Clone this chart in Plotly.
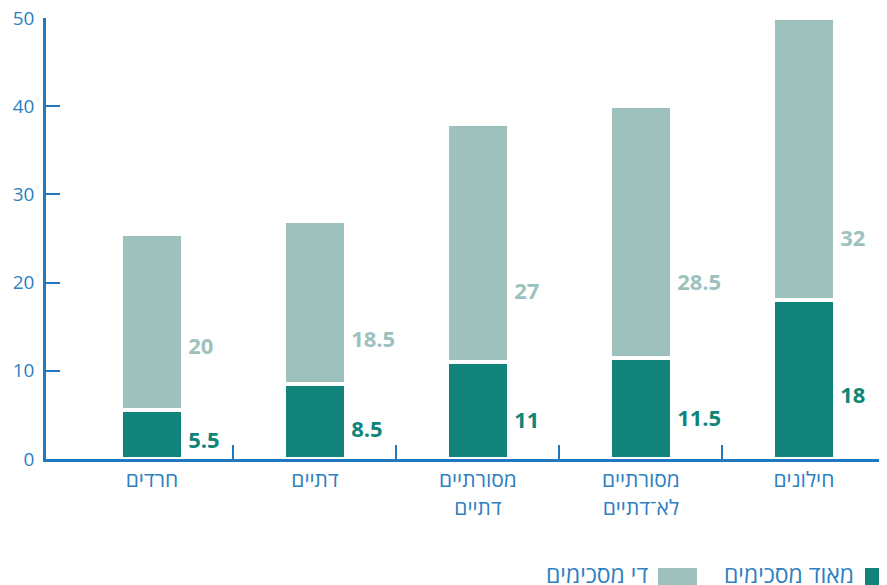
import plotly.graph_objects as go

categories = ["חרדים", "דתיים", "מסורתיים<br>דתיים", "מסורתיים<br>לא־דתיים", "חילונים"]
very_agree = [5.5, 8.5, 11, 11.5, 18]
somewhat_agree = [20, 18.5, 27, 28.5, 32]
series_names = ["מאוד מסכימים", "די מסכימים"]
y_ticks = [0, 10, 20, 30, 40, 50]

DARK = "#10847a"
LIGHT = "#9dc2be"
BLUE = "#1f78c0"
TXT = "#2d80c2"
FONT = "Open Sans"

# page offset (browser body margin) compensation
OFF = 8
L, T, R, B = 46 - OFF, 18 - OFF, OFF, 585 - 459 + OFF
PW, PH = 887 - 46, 459 - 18

xs = list(range(len(categories)))
bw = 0.385

fig = go.Figure()
fig.add_trace(go.Bar(x=xs, y=very_agree, name=series_names[0], width=bw,
                     marker=dict(color=DARK, line=dict(color="white", width=4)),
                     hoverinfo="skip"))
fig.add_trace(go.Bar(x=xs, y=somewhat_agree, name=series_names[1], width=bw,
                     marker=dict(color=LIGHT, line=dict(color="white", width=4)),
                     hoverinfo="skip"))

lab_x = [x + bw / 2 + 0.03 for x in xs]
fig.add_trace(go.Scatter(
    x=lab_x, y=[0.41 * d - 0.35 for d in very_agree], mode="text",
    text=[f"{v:g}" for v in very_agree], textposition="middle right",
    textfont=dict(family=FONT, size=22, color=DARK, weight="bold"),
    showlegend=False, hoverinfo="skip", cliponaxis=False))
fig.add_trace(go.Scatter(
    x=lab_x, y=[(d + l) / 2 - 0.2 for d, l in zip(very_agree, somewhat_agree)], mode="text",
    text=[f"{v:g}" for v in somewhat_agree], textposition="middle right",
    textfont=dict(family=FONT, size=22, color=LIGHT, weight="bold"),
    showlegend=False, hoverinfo="skip", cliponaxis=False))

fig.update_layout(
    width=887, height=585,
    margin=dict(l=L, r=R, t=T, b=B, autoexpand=False),
    barmode="stack",
    plot_bgcolor="white", paper_bgcolor="white",
    showlegend=False,
    font=dict(family=FONT, size=18, color=TXT),
    xaxis=dict(
        type="linear", range=[-0.65, 4.51], automargin=False,
        tickmode="array", tickvals=xs, ticktext=categories,
        ticks="", showgrid=False, zeroline=False,
        showline=True, linecolor=BLUE, linewidth=3,
        tickfont=dict(family=FONT, size=21, color=TXT),
        ticklabelstandoff=0, ticklabeloverflow="allow",
        minor=dict(tickmode="array", tickvals=[x + 0.5 for x in xs[:-1]],
                   ticks="inside", ticklen=14, tickwidth=2, tickcolor=BLUE, showgrid=False),
    ),
    yaxis=dict(
        range=[0, 50], tickvals=y_ticks, automargin=False,
        ticks="inside", ticklen=14, tickwidth=2, tickcolor=BLUE,
        showline=True, linecolor=BLUE, linewidth=2.5,
        showgrid=False, zeroline=False,
        tickfont=dict(family=FONT, size=19, color=TXT),
        ticklabelstandoff=5, ticklabeloverflow="allow",
    ),
)

def px(x):
    return (x - 46) / PW

def py(y):
    return (459 - y) / PH

leg_y = py(574)
fig.add_shape(type="rect", xref="paper", yref="paper",
              x0=px(865), x1=px(904), y0=py(568), y1=py(595),
              fillcolor=DARK, line_width=0)
fig.add_annotation(xref="paper", yref="paper", x=px(856), y=leg_y,
                   text=series_names[0], showarrow=False, xanchor="right", yanchor="middle",
                   font=dict(family=FONT, size=23, color=TXT))
fig.add_shape(type="rect", xref="paper", yref="paper",
              x0=px(658), x1=px(697), y0=py(568), y1=py(595),
              fillcolor=LIGHT, line_width=0)
fig.add_annotation(xref="paper", yref="paper", x=px(650), y=leg_y,
                   text=series_names[1], showarrow=False, xanchor="right", yanchor="middle",
                   font=dict(family=FONT, size=23, color=TXT))

fig.write_html("out.html")
